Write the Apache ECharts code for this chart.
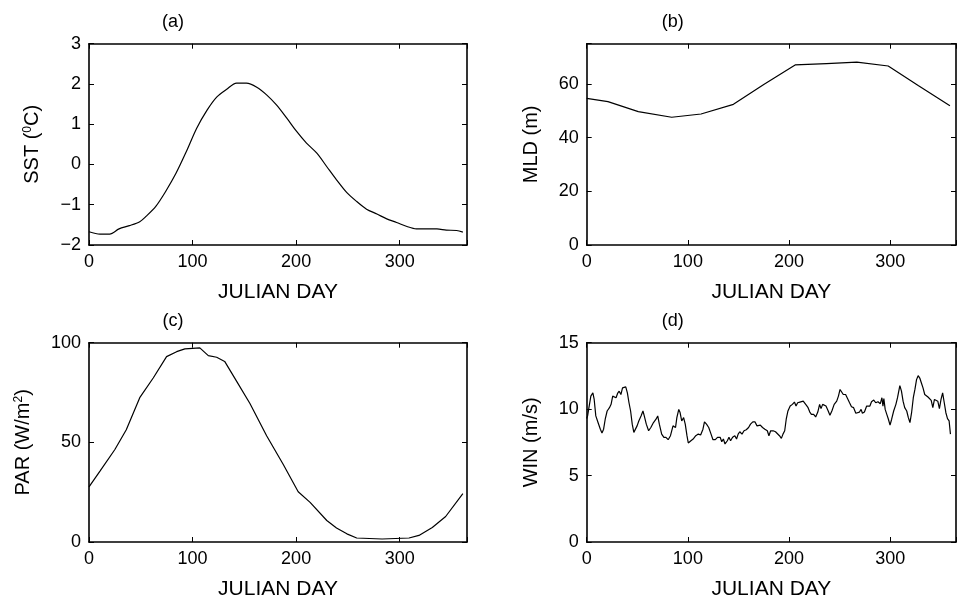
<!DOCTYPE html>
<html>
<head>
<meta charset="utf-8">
<script src="https://cdn.jsdelivr.net/npm/echarts@6/dist/echarts.min.js"></script>
<style>
html,body{margin:0;padding:0;background:#fff;}
#c{width:959px;height:601px;}
</style>
</head>
<body>
<div id="c"></div>
<script>
// ---- Data ----
var panelTitles = ['(a)', '(b)', '(c)', '(d)'];
var xTicks = [0, 100, 200, 300];

// (a) SST
var sstDays = [0, 10.6, 20, 29, 39, 49, 55, 64.5, 74, 84, 94, 104, 114, 123.5, 133, 142.5, 152, 162, 171.5, 181, 191, 200.5, 210, 220, 229.5, 239, 249, 258.5, 268, 278, 287.5, 297, 307, 316, 326, 336, 345, 355, 361];
var sstVals = [-1.67, -1.73, -1.73, -1.6, -1.52, -1.42, -1.29, -1.04, -0.67, -0.22, 0.32, 0.9, 1.35, 1.68, 1.87, 2.02, 2.02, 1.92, 1.73, 1.48, 1.15, 0.82, 0.53, 0.28, -0.05, -0.38, -0.7, -0.92, -1.11, -1.23, -1.35, -1.44, -1.54, -1.6, -1.6, -1.6, -1.63, -1.64, -1.68];

// (b) MLD
var mldDays = [0, 21, 51, 84, 113, 145, 175, 206, 237, 267, 298, 328, 359];
var mldVals = [54.6, 53.4, 49.7, 47.6, 48.8, 52.4, 59.8, 67.1, 67.6, 68.1, 66.7, 59.3, 51.9];

// (c) PAR
var parDays = [0, 10.6, 25, 36, 49, 62, 74.9, 84.6, 92.6, 107, 115.2, 123.3, 131, 142.6, 155.4, 171.5, 187.6, 202, 213.5, 229.6, 239, 249, 258.5, 283, 309, 318.6, 331.5, 344.4, 361];
var parVals = [27.7, 35.6, 46.4, 56.3, 72.4, 82.3, 93, 95.5, 96.9, 97.4, 93.5, 92.7, 90.6, 80.6, 69.5, 53.3, 38.9, 25.2, 19.9, 10.8, 7, 4.1, 2, 1.5, 2, 3.3, 7.3, 12.8, 24.3];

// (d) WIN
var winDays = [0, 0.9, 2.2, 4.1, 6.1, 7.4, 9, 11.2, 13.5, 15.1, 16.7, 18.3, 20.2, 22.5, 24.1, 25.7, 27.3, 29, 30.5, 32.1, 33.8, 35.4, 37, 38.6, 40.2, 41.8, 43.4, 45, 46.6, 48.2, 49.8, 51.5, 53.7, 55.6, 56.9, 58.9, 61.2, 63.4, 66, 68.5, 70.2, 71.8, 74.1, 76.3, 78.3, 80.5, 82.8, 85.3, 87.8, 89.1, 91, 92.3, 93.9, 95.8, 97.4, 99.1, 100.4, 103, 105.2, 107.8, 110.3, 112.6, 114.9, 116.4, 118.4, 120.6, 122.9, 124.8, 127.1, 129.3, 131.9, 133.5, 135.1, 136.7, 139, 140.6, 142.2, 144.2, 146.4, 148.1, 149.7, 151.3, 153.5, 155.5, 157.7, 160, 161.9, 164.2, 166.4, 168.3, 170, 171.6, 173.8, 176.1, 178.5, 180.1, 181.8, 184.3, 186.6, 188.2, 190.5, 192.4, 194, 195.7, 197.2, 198.9, 201.1, 203.3, 205.3, 206.9, 208.5, 210.7, 212.4, 214, 215.6, 217.2, 218.8, 220.5, 222.1, 224.3, 226.3, 228.4, 230.2, 231.6, 233.2, 234.9, 236.5, 238.7, 240.4, 242.3, 244.6, 247.1, 248.8, 250.4, 252, 253.6, 255.9, 257.5, 259.8, 261.7, 263.8, 266, 267.7, 269.6, 271.2, 272.5, 274.5, 276.7, 278.3, 279.9, 281.5, 283.7, 285.7, 287.9, 290.2, 291.8, 292.8, 293.7, 295, 296.6, 298.2, 299.8, 301.4, 303.4, 305.6, 307.2, 309.5, 311.1, 312.7, 314.3, 316.3, 317.9, 319.5, 321.1, 322.8, 324.4, 326, 327.6, 329.2, 330.8, 332.4, 334.1, 335.7, 337.3, 338.9, 340.5, 342.1, 343.7, 345.4, 347, 348.6, 350.2, 351.8, 353.4, 355, 356.6, 358.2, 359.5];
var winVals = [9.3, 9.49, 10.11, 10.98, 11.23, 10.73, 9.49, 8.99, 8.49, 8.2, 8.49, 9.24, 9.86, 10.11, 10.36, 10.98, 11.03, 10.86, 11.18, 11.35, 11.1, 11.6, 11.6, 11.68, 11.23, 10.48, 9.86, 8.87, 8.25, 8.37, 8.74, 9.11, 9.49, 9.86, 9.49, 8.87, 8.37, 8.62, 8.99, 9.24, 9.49, 8.87, 8.12, 7.88, 7.88, 7.7, 8.0, 8.74, 8.62, 9.36, 9.98, 9.74, 9.11, 9.36, 8.87, 8.0, 7.45, 7.62, 7.75, 8.0, 8.12, 8.05, 8.49, 9.04, 8.87, 8.62, 8.12, 7.7, 7.7, 7.88, 7.88, 7.55, 7.75, 7.38, 7.62, 7.88, 7.62, 7.88, 8.0, 7.75, 8.12, 8.3, 8.12, 8.37, 8.45, 8.62, 8.87, 9.04, 9.04, 8.74, 8.62, 8.8, 8.62, 8.49, 8.37, 8.0, 8.37, 8.37, 8.3, 8.24, 8.0, 7.8, 8.12, 8.37, 9.24, 9.86, 10.23, 10.36, 10.53, 10.23, 10.48, 10.53, 10.6, 10.6, 10.53, 10.28, 10.11, 9.78, 9.61, 9.61, 9.41, 9.78, 10.36, 10.04, 10.36, 10.48, 10.23, 9.86, 9.54, 9.86, 10.36, 10.6, 10.98, 11.48, 11.35, 11.1, 11.1, 10.98, 10.48, 10.18, 10.11, 9.69, 9.54, 9.78, 9.98, 9.69, 9.78, 10.23, 10.36, 10.23, 10.56, 10.68, 10.48, 10.56, 10.41, 10.86, 10.23, 10.8, 9.98, 9.61, 9.24, 8.79, 9.24, 9.86, 10.36, 10.86, 11.77, 11.35, 10.6, 10.11, 9.86, 9.36, 8.99, 9.73, 10.86, 11.48, 12.22, 12.52, 12.34, 11.97, 11.6, 11.1, 11.03, 10.91, 10.96, 10.66, 10.11, 10.73, 10.78, 10.6, 10.04, 10.73, 11.23, 10.48, 9.73, 9.29, 9.11, 8.12];

// ---- Chart ----
var FONT = '"Liberation Sans", Arial, Helvetica, sans-serif';
function pairs(xs, ys) { return xs.map(function (x, i) { return [x, ys[i]]; }); }

var panels = [
  { left: 89, top: 43.7, width: 378, height: 201.3, ymin: -2, ymax: 3, yint: 1, yname: 'SST ({sup|0}C)', ygap: 47, data: pairs(sstDays, sstVals), smooth: 0.3, tx: 173, ty: 22.5 },
  { left: 586.7, top: 43.7, width: 378.3, height: 201.3, ymin: 0, ymax: 75, yint: 20, yname: 'MLD (m)', ygap: 45, data: pairs(mldDays, mldVals), smooth: false, tx: 672.7, ty: 22.5 },
  { left: 89, top: 342.7, width: 378, height: 201.3, ymin: 0, ymax: 100, yint: 50, yname: 'PAR (W/m{sup|2})', ygap: 56, data: pairs(parDays, parVals), smooth: false, tx: 173, ty: 321 },
  { left: 586.7, top: 342.7, width: 378.3, height: 201.3, ymin: 0, ymax: 15, yint: 5, yname: 'WIN (m/s)', ygap: 45, data: pairs(winDays, winVals), smooth: false, tx: 672.7, ty: 321 }
];

var grid = [], xAxis = [], yAxis = [], series = [], graphic = [];
var axLine = { show: true, onZero: false, lineStyle: { color: '#000', width: 1.6 } };
var tick = { inside: true, length: 5, lineStyle: { color: '#000', width: 1 } };
panels.forEach(function (p, i) {
  grid.push({ left: p.left, top: p.top, width: p.width, height: p.height, show: false, containLabel: false });
  var xBase = { type: 'value', gridIndex: i, min: 0, max: 365, interval: 100, splitLine: { show: false }, axisLine: axLine, axisTick: tick };
  xAxis.push(Object.assign({}, xBase, {
    position: 'bottom',
    axisLabel: { fontSize: 18, fontFamily: FONT, color: '#000', margin: 8,
      formatter: function (v) { return (xTicks.indexOf(v) >= 0) ? String(v) : ''; } },
    name: 'JULIAN DAY', nameLocation: 'middle', nameGap: 37,
    nameTextStyle: { fontSize: 21, fontFamily: FONT, color: '#000' }
  }));
  xAxis.push(Object.assign({}, xBase, {
    position: 'top',
    axisLabel: { show: false }
  }));
  var yBase = { type: 'value', gridIndex: i, min: p.ymin, max: p.ymax, interval: p.yint, splitLine: { show: false }, axisLine: axLine, axisTick: tick };
  yAxis.push(Object.assign({}, yBase, {
    position: 'left',
    axisLabel: { fontSize: 18, fontFamily: FONT, color: '#000', margin: 8,
      formatter: function (v) {
        if ((v - p.ymin) % p.yint !== 0) return '';
        return String(v).replace('-', '\u2212');
      } },
    name: p.yname, nameLocation: 'middle', nameRotate: 90, nameGap: p.ygap,
    nameTextStyle: { fontSize: 20, fontFamily: FONT, color: '#000',
      rich: { sup: { fontSize: 12, fontFamily: FONT, color: '#000', verticalAlign: 'top', lineHeight: 12 } } }
  }));
  yAxis.push(Object.assign({}, yBase, {
    position: 'right',
    axisLabel: { show: false }
  }));
  series.push({
    type: 'line', xAxisIndex: i * 2, yAxisIndex: i * 2, data: p.data,
    showSymbol: false, symbol: 'none', smooth: p.smooth,
    lineStyle: { color: '#000', width: 1.2 }, clip: true
  });
  graphic.push({ type: 'text', x: p.tx, y: p.ty,
    style: { text: panelTitles[i], font: '18px ' + FONT, fill: '#000', align: 'center', verticalAlign: 'middle' } });
});

var chart = echarts.init(document.getElementById('c'), null, { renderer: 'canvas' });
chart.setOption({
  animation: false,
  backgroundColor: '#fff',
  grid: grid, xAxis: xAxis, yAxis: yAxis, series: series, graphic: graphic
});
</script>
</body>
</html>
